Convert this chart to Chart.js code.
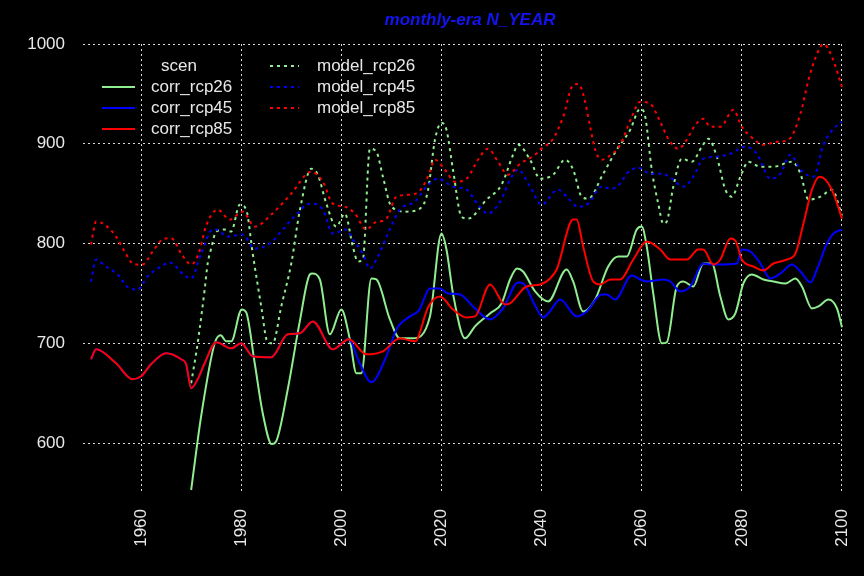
<!DOCTYPE html>
<html>
<head>
<meta charset="utf-8">
<script src="https://cdn.jsdelivr.net/npm/chart.js@4.4.1/dist/chart.umd.min.js"></script>
<style>
  html, body { margin: 0; padding: 0; background: #000; }
  #wrap { width: 864px; height: 576px; }
</style>
</head>
<body>
<div id="wrap"><canvas id="chart" width="864" height="576"></canvas></div>
<script>
// values (year, N_YEAR)
const xTicks = [1960, 1980, 2000, 2020, 2040, 2060, 2080, 2100];
const yTicks = [600, 700, 800, 900, 1000];

// historical part shared by corr_rcp45 and corr_rcp85
const histYears = [1950, 1951, 1955, 1958.3, 1960, 1962, 1965, 1968, 1969, 1970, 1971.3, 1972.7, 1975, 1978, 1980,
  1982.3, 1986, 1989.3, 1991.7, 1994.3, 1998.3, 2001.5];
const histVals = [684, 694, 680, 664, 667, 679, 690, 684, 679, 655, 664, 680, 701, 695, 700,
  687, 686, 709, 710, 722, 694, 704];

const corr85Years = [2005, 2008.3, 2011.7, 2014.7, 2017.4, 2019.7, 2022.3, 2025, 2026.7, 2029.7, 2032.7, 2033.7, 2037,
  2039.7, 2041.7, 2043, 2046.3, 2047, 2048.3, 2050.3, 2051.7, 2053.7, 2055.7, 2058.3, 2061, 2063.7, 2065.7, 2069,
  2071.3, 2072.3, 2074.3, 2075.7, 2077.7, 2078.7, 2080, 2082.3, 2084.3, 2086.3, 2089, 2090.7, 2092.3, 2094, 2095.5,
  2096.7, 2098.3, 2100];
const corr85Vals = [689, 692, 705, 702, 737, 747, 734, 726, 727, 759, 739, 740, 757,
  759, 765, 774, 824, 824, 797, 762, 759, 764, 764, 784, 802, 794, 784, 784,
  794, 794, 779, 784, 805, 803, 784, 777, 773, 780, 784, 790, 820, 854, 867,
  864, 850, 825];

const corr45Years = [2003.5, 2006, 2009, 2011, 2013.7, 2015.5, 2017.7, 2019.7, 2021.3, 2023.7, 2026.3, 2029.7, 2032.3,
  2035.3, 2036.3, 2038.7, 2040.3, 2041.5, 2043.7, 2047, 2049, 2052, 2053, 2054.7, 2058, 2059.7, 2061, 2064.3, 2065.7,
  2067.7, 2069.7, 2072.3, 2073.7, 2075.3, 2079, 2080, 2081.7, 2083.7, 2085.7, 2087.7, 2090, 2091.7, 2093.7, 2095,
  2097, 2098.3, 2100];
const corr45Vals = [682, 661, 687, 714, 727, 733, 755, 755, 750, 749, 737, 724, 735,
  761, 760, 738, 726, 731, 744, 727, 732, 749, 749, 744, 768, 764, 762, 764, 762,
  752, 757, 780, 779, 779, 780, 794, 792, 780, 765, 770, 779, 772, 761, 774,
  800, 810, 814];

const corr26Years = [1970, 1972, 1974.7, 1975.9, 1977, 1978, 1980.1, 1981, 1982.7, 1984.3, 1986.1, 1987, 1989.3, 1991.7,
  1993.7, 1994.2, 1995.7, 1997.7, 2000, 2001.7, 2003, 2004, 2006, 2007, 2009.7, 2011.7, 2014.3, 2017.7, 2020, 2021,
  2022.3, 2024.7, 2026.7, 2029.7, 2032, 2033.7, 2035.1, 2036.3, 2038.7, 2041.3, 2045, 2046.3, 2048.3, 2050.7, 2053.3,
  2055.3, 2057, 2059, 2060, 2061, 2062.3, 2064, 2065, 2067, 2068.3, 2070.3, 2072.3, 2074, 2075.7, 2077.3, 2078.7,
  2080.3, 2082, 2084.3, 2086.3, 2088.7, 2090.7, 2092, 2094, 2095.3, 2097.3, 2099, 2100];
const corr26Vals = [553, 627, 700, 708, 702, 702, 734, 731, 680, 630, 599, 602, 654, 722,
  769, 770, 764, 709, 734, 704, 670, 670, 765, 764, 724, 705, 705, 727, 810, 794,
  750, 705, 717, 730, 740, 764, 775, 772, 752, 742, 774, 762, 732, 744, 777,
  787, 787, 814, 817, 797, 750, 700, 701, 757, 762, 757, 780, 780, 747, 724, 730,
  760, 769, 764, 762, 760, 765, 757, 735, 737, 744, 735, 716];

const model26Years = [1970, 1971.3, 1972.7, 1973.3, 1974, 1975, 1976.7, 1978, 1979.7, 1981, 1982.3, 1984, 1985.2, 1986.3,
  1988, 1990, 1991.7, 1994, 1995.3, 1997, 1999, 2000.7, 2002.3, 2003.3, 2004.3, 2005.7, 2007, 2008.3, 2010, 2013,
  2015.7, 2017.3, 2018.7, 2020, 2021, 2022.3, 2024, 2025.3, 2029, 2032, 2034.3, 2035.3, 2037.7, 2039.7, 2042.3,
  2044.7, 2046.3, 2048, 2049.3, 2052.3, 2055, 2057.7, 2059.7, 2060.7, 2062, 2063.3, 2064.3, 2065, 2066.3, 2068,
  2070, 2072, 2073.3, 2075, 2076.7, 2078, 2079.7, 2081.3, 2083.7, 2086.3, 2090, 2091.7, 2093.3, 2095.7, 2098, 2100];
const model26Vals = [660, 700, 754, 780, 795, 812, 814, 812, 839, 834, 790, 737, 702, 700,
  737, 780, 833, 875, 869, 840, 817, 830, 797, 782, 784, 895, 892, 867, 837, 832,
  835, 853, 904, 921, 914, 874, 827, 825, 844, 859, 889, 899, 884, 865, 869,
  884, 874, 847, 845, 870, 894, 914, 935, 927, 874, 840, 820, 822, 857, 885,
  882, 897, 905, 887, 854, 847, 867, 882, 877, 877, 882, 870, 844, 847, 854, 828];

const model45Years = [1950, 1951, 1952.7, 1955.3, 1957.7, 1959.3, 1961.3, 1964, 1965.7, 1968.7, 1970, 1972, 1974.3,
  1975, 1977.3, 1980.3, 1982.7, 1985.7, 1988.3, 1991, 1993.7, 1996.3, 1998.3, 2001, 2002.3, 2004.3, 2005.7, 2007.3,
  2009.3, 2011.7, 2014.7, 2017, 2019.3, 2022.3, 2025, 2027.3, 2029.3, 2031.7, 2033.7, 2035.3, 2037.7, 2040, 2043.3,
  2045, 2047.3, 2049.3, 2052, 2054, 2055.7, 2057, 2059.3, 2061.7, 2064, 2065.5, 2068.3, 2070.3, 2072.3, 2075, 2077.7,
  2080.7, 2083, 2085.7, 2087.7, 2089.7, 2091.7, 2094.3, 2096.3, 2098.3, 2100];
const model45Vals = [762, 784, 778, 769, 755, 754, 767, 777, 781, 768, 765, 790, 814,
  814, 807, 809, 795, 800, 814, 829, 840, 834, 810, 814, 804, 790, 775, 787,
  810, 834, 842, 857, 865, 857, 854, 839, 830, 842, 864, 874, 857, 839, 854,
  847, 837, 840, 857, 855, 860, 870, 876, 870, 870, 867, 857, 867, 885, 887, 890,
  897, 890, 865, 870, 889, 874, 867, 899, 915, 922];

const model85Years = [1950, 1951, 1952.7, 1955, 1956.7, 1958.7, 1960.3, 1962.3, 1964.7, 1966.1, 1968, 1970, 1971.5,
  1973, 1975.3, 1977.7, 1980.3, 1982.7, 1986, 1990, 1994, 1996.3, 1998.3, 2000.7, 2002.7, 2005, 2006.7, 2009, 2011,
  2013.7, 2015.7, 2017.3, 2018.7, 2020.7, 2022.7, 2025, 2027.3, 2029.3, 2031.3, 2033.3, 2035.7, 2038.7, 2039.7,
  2042.3, 2044.3, 2046.3, 2047.3, 2048.3, 2049.7, 2050.7, 2052, 2053.3, 2055.7, 2058, 2059.7, 2061.7, 2063.7, 2065.3,
  2067.3, 2069, 2070.7, 2072.3, 2073.7, 2075.7, 2078.3, 2080, 2082.3, 2084.3, 2087, 2089.3, 2091.7, 2093.3, 2095,
  2096.3, 2098, 2100];
const model85Vals = [799, 822, 819, 807, 792, 779, 779, 792, 805, 805, 790, 779, 790,
  818, 834, 824, 832, 817, 829, 850, 872, 862, 840, 837, 830, 814, 821, 825, 847,
  849, 853, 867, 884, 874, 862, 865, 884, 895, 882, 869, 880, 889, 894,
  905, 927, 959, 960, 950, 917, 894, 884, 887, 899, 927, 942, 940, 922, 905,
  895, 904, 919, 925, 917, 917, 934, 917, 905, 899, 902, 904, 930, 964, 990,
  1000, 987, 957];

const GREEN = '#90ee90';
const BLUE = '#0000ff';
const RED = '#ff0000';
const TEXT_COL = '#e8e8e8';
const FONT = '"Liberation Sans", Arial, sans-serif';

function pts(years, vals) {
  return years.map((x, i) => ({x: x, y: vals[i]}));
}

// corr_rcp45 / corr_rcp85 start from the shared historical run
const corr45Data = pts(histYears, histVals).concat(pts(corr45Years, corr45Vals));
const corr85Data = pts(histYears, histVals).concat(pts(corr85Years, corr85Vals));

const legendItems = [
  {label: 'corr_rcp26', color: GREEN, dash: [], col: 0, row: 1},
  {label: 'corr_rcp45', color: BLUE, dash: [], col: 0, row: 2},
  {label: 'corr_rcp85', color: RED, dash: [], col: 0, row: 3},
  {label: 'model_rcp26', color: GREEN, dash: [3, 4], col: 1, row: 0},
  {label: 'model_rcp45', color: BLUE, dash: [3, 4], col: 1, row: 1},
  {label: 'model_rcp85', color: RED, dash: [3, 4], col: 1, row: 2},
];

function line(label, data, color, dash, order) {
  return {
    label: label,
    data: data,
    borderColor: color,
    borderWidth: 2,
    borderDash: dash,
    pointRadius: 0,
    fill: false,
    cubicInterpolationMode: 'monotone',
    order: order,
  };
}

// black page, title and the two-column legend drawn straight on the canvas
const extras = {
  id: 'extras',
  beforeDraw(chart) {
    const c = chart.ctx;
    c.save();
    c.fillStyle = '#000';
    c.fillRect(0, 0, chart.width, chart.height);
    c.restore();
  },
  afterDraw(chart) {
    const c = chart.ctx;
    const area = chart.chartArea;
    c.save();
    c.fillStyle = '#1414f0';
    c.font = 'italic bold 17px ' + FONT;
    c.textAlign = 'center';
    c.textBaseline = 'middle';
    c.fillText('monthly-era N_YEAR', (area.left + area.right) / 2 + 7, 20);

    c.font = '17px ' + FONT;
    c.fillStyle = TEXT_COL;
    c.textAlign = 'left';
    c.fillText('scen', 161, 66);
    const rowY = [66, 87, 108, 129];
    const lineX = [[102, 135], [270, 299]];
    const textX = [151, 317];
    legendItems.forEach(it => {
      const y = rowY[it.row];
      c.strokeStyle = it.color;
      c.lineWidth = 2;
      c.setLineDash(it.dash);
      c.beginPath();
      c.moveTo(lineX[it.col][0], y);
      c.lineTo(lineX[it.col][1], y);
      c.stroke();
      c.setLineDash([]);
      c.fillStyle = TEXT_COL;
      c.fillText(it.label, textX[it.col], y);
    });
    c.restore();
  }
};

const ctx = document.getElementById('chart').getContext('2d');
const chart = new Chart(ctx, {
  type: 'line',
  data: {
    datasets: [
      line('corr_rcp85', corr85Data, RED, [], 1),
      line('corr_rcp45', corr45Data, BLUE, [], 2),
      line('corr_rcp26', pts(corr26Years, corr26Vals), GREEN, [], 3),
      line('model_rcp85', pts(model85Years, model85Vals), RED, [3, 4], 4),
      line('model_rcp45', pts(model45Years, model45Vals), BLUE, [3, 4], 5),
      line('model_rcp26', pts(model26Years, model26Vals), GREEN, [3, 4], 6),
    ]
  },
  options: {
    responsive: false,
    animation: false,
    layout: { padding: { top: 44, right: 21, left: 0, bottom: 0 } },
    plugins: { legend: { display: false }, tooltip: { enabled: false }, title: { display: false } },
    scales: {
      x: {
        type: 'linear',
        min: 1948.4,
        max: 2100.2,
        afterBuildTicks: s => { s.ticks = xTicks.map(v => ({value: v})); },
        afterFit: s => { s.height = 85; s.paddingLeft = 0; s.paddingRight = 0; },
        grid: { color: '#d8d8d8', lineWidth: 1, drawTicks: false },
        border: { display: false, dash: [2, 3] },
        ticks: {
          color: TEXT_COL,
          font: { family: FONT, size: 17 },
          minRotation: 90,
          maxRotation: 90,
          padding: 18,
          callback: v => String(v),
        },
      },
      y: {
        min: 552,
        max: 1000,
        afterBuildTicks: s => { s.ticks = yTicks.map(v => ({value: v})); },
        afterFit: s => { s.width = 83; s.paddingTop = 0; s.paddingBottom = 0; },
        grid: { color: '#d8d8d8', lineWidth: 1, drawTicks: false },
        border: { display: false, dash: [2, 3] },
        ticks: {
          color: TEXT_COL,
          font: { family: FONT, size: 17 },
          padding: 18,
          callback: v => String(v),
        },
      },
    }
  },
  plugins: [extras],
});
</script>
</body>
</html>
